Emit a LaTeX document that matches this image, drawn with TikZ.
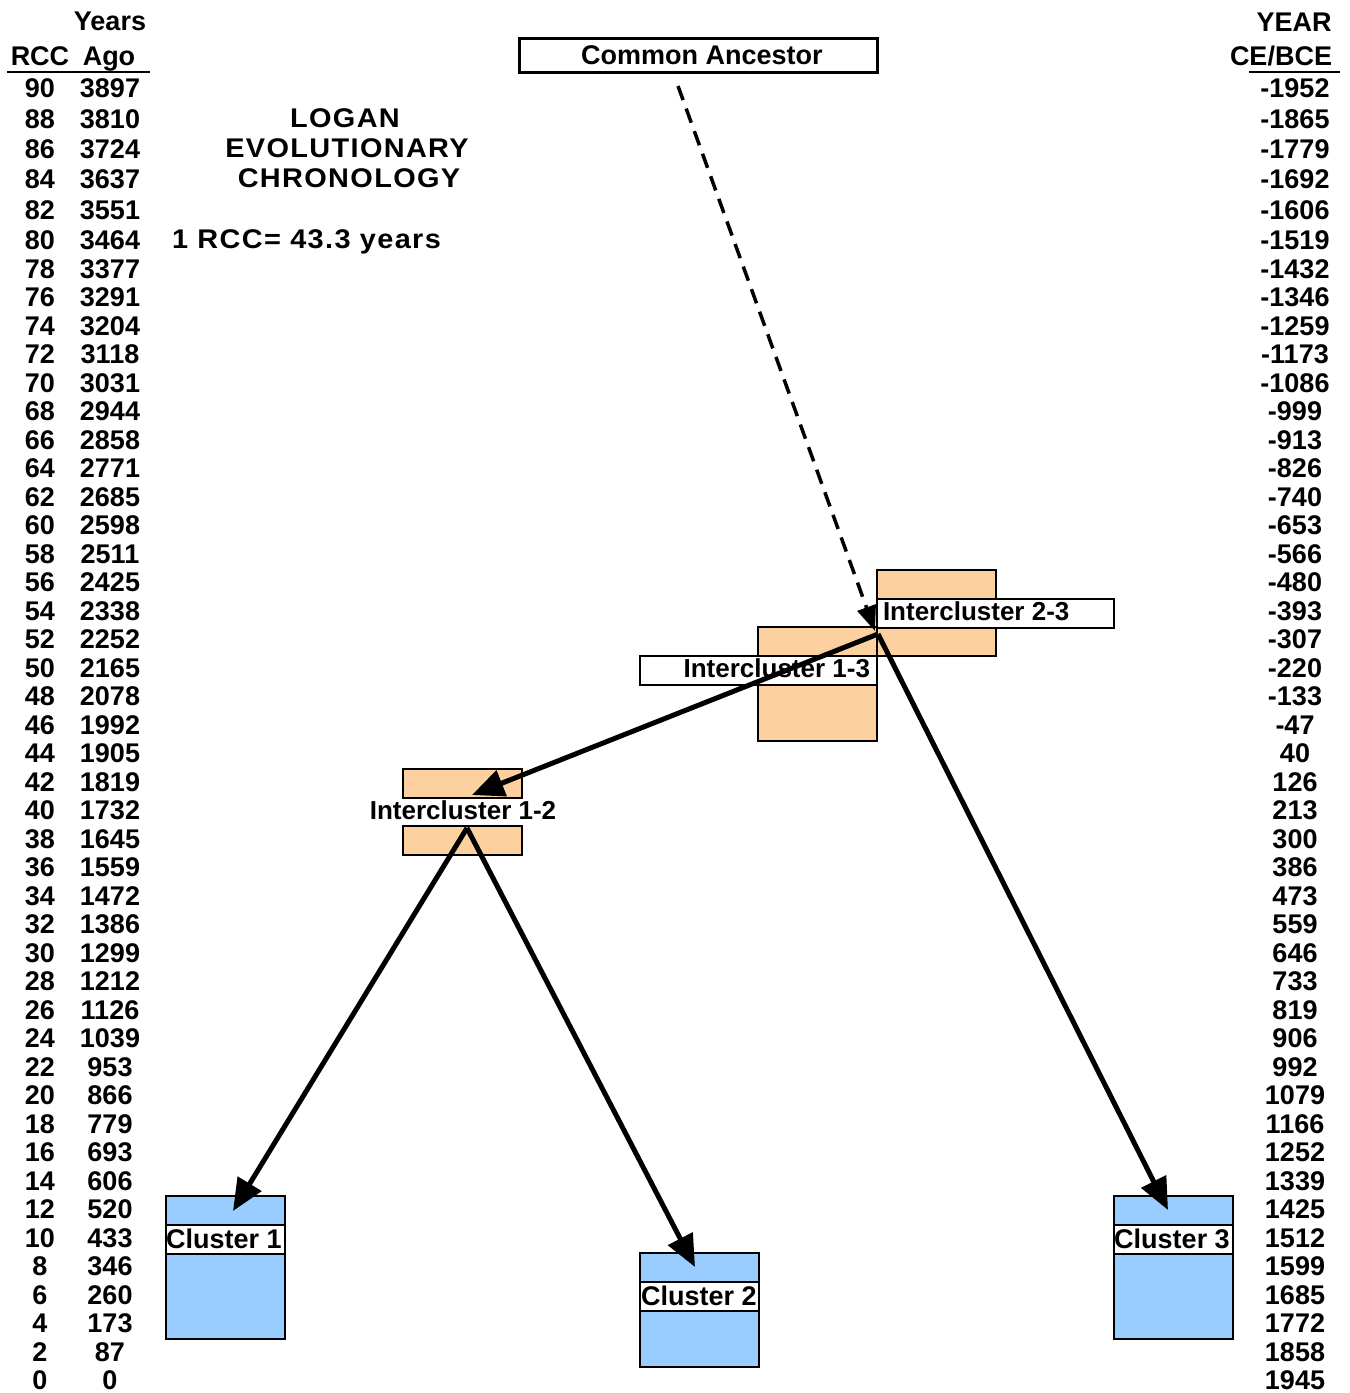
\documentclass[tikz,border=0pt]{standalone}
\usepackage{fontspec}
\setmainfont{Liberation Sans}
\usetikzlibrary{arrows.meta}
\definecolor{myorange}{HTML}{FCD09F}
\definecolor{myblue}{HTML}{99CCFF}
\begin{document}
\begin{tikzpicture}[x=1pt,y=-1pt,
  every node/.style={inner sep=0pt, outer sep=0pt},
  txt/.style={font=\fontsize{27}{30}\selectfont\bfseries, anchor=base},
  ttxt/.style={font=\fontsize{27}{30}\selectfont\bfseries\addfontfeature{FakeStretch=1.07,LetterSpace=5}, anchor=base},
  itxt/.style={font=\fontsize{26}{30}\selectfont\bfseries, anchor=base},
  obox/.style={draw=black, line width=1.5pt, fill=myorange, anchor=north west},
  bbox/.style={draw=black, line width=1.5pt, fill=myblue, anchor=north west},
  wbox/.style={draw=black, line width=1.5pt, fill=white, anchor=north west},
  bigarrow/.style={line width=5pt, -{Triangle[length=32pt,width=27pt]}},
  dasharrow/.style={line width=3.5pt, dash pattern=on 15pt off 9pt, -{Triangle[length=25pt,width=19pt]}}]
\useasboundingbox (0,0) rectangle (1350,1393);

% headers
\node[txt] (hyears) at (110,30) {Years};
\node[txt] (hrcc) at (40,65) {RCC};
\node[txt] (hago) at (109,65) {Ago};
\draw[line width=2pt] (7,72) -- (150,72);
\node[txt] (hyear) at (1294,31) {YEAR};
\node[txt] (hce) at (1281,65) {CE/BCE};
\draw[line width=2pt] (1249,72) -- (1340,72);

% table
\foreach \r/\a/\c [count=\i from 0] in {90/3897/-1952, 88/3810/-1865, 86/3724/-1779, 84/3637/-1692, 82/3551/-1606, 80/3464/-1519, 78/3377/-1432, 76/3291/-1346, 74/3204/-1259, 72/3118/-1173, 70/3031/-1086, 68/2944/-999, 66/2858/-913, 64/2771/-826, 62/2685/-740, 60/2598/-653, 58/2511/-566, 56/2425/-480, 54/2338/-393, 52/2252/-307, 50/2165/-220, 48/2078/-133, 46/1992/-47, 44/1905/40, 42/1819/126, 40/1732/213, 38/1645/300, 36/1559/386, 34/1472/473, 32/1386/559, 30/1299/646, 28/1212/733, 26/1126/819, 24/1039/906, 22/953/992, 20/866/1079, 18/779/1166, 16/693/1252, 14/606/1339, 12/520/1425, 10/433/1512, 8/346/1599, 6/260/1685, 4/173/1772, 2/87/1858, 0/0/1945}{
  \pgfmathsetmacro{\yy}{\i<6 ? 88+\i*30.4+9.7 : 240+(\i-5)*28.5+9.7}
  \node[txt] (r\i) at (40,\yy) {\r};
  \node[txt] (a\i) at (110,\yy) {\a};
  \node[txt] (c\i) at (1295,\yy) {\c};
}

% title
\node[ttxt] (t1) at (345,127) {LOGAN};
\node[ttxt] (t2) at (347,157) {EVOLUTIONARY};
\node[ttxt] (t3) at (349,187) {CHRONOLOGY};
\node[ttxt, anchor=base west] (t4) at (172,248) {1 RCC= 43.3 years};

% common ancestor
\node[wbox, line width=3pt, minimum width=358pt, minimum height=34pt] (ca) at (519,38) {};
\node[txt] (catext) at (702,64) {Common Ancestor};

% intercluster boxes
\node[obox, minimum width=119pt, minimum height=86pt] (o23) at (877,570) {};
\node[obox, minimum width=119pt, minimum height=114pt] (o13) at (758,627) {};
\node[wbox, minimum width=237pt, minimum height=29pt] (w23) at (877,599) {};
\node[wbox, minimum width=237pt, minimum height=29pt] (w13) at (640,656) {};
\node[itxt, anchor=base west] (l23) at (883,620) {Intercluster 2-3};
\node[itxt, anchor=base east] (l13) at (870,677) {Intercluster 1-3};

\node[obox, minimum width=119pt, minimum height=29pt] (o12a) at (403,769) {};
\node[obox, minimum width=119pt, minimum height=29pt] (o12b) at (403,826) {};
\node[itxt] (l12) at (463,819) {Intercluster 1-2};

% clusters
\node[bbox, minimum width=119pt, minimum height=143pt] (k1) at (166,1196) {};
\node[wbox, minimum width=119pt, minimum height=29pt] (k1w) at (166,1225) {};
\node[txt] (k1t) at (224,1248) {Cluster 1};

\node[bbox, minimum width=119pt, minimum height=114pt] (k2) at (640,1253) {};
\node[wbox, minimum width=119pt, minimum height=29pt] (k2w) at (640,1282) {};
\node[txt] (k2t) at (699,1305) {Cluster 2};

\node[bbox, minimum width=119pt, minimum height=143pt] (k3) at (1114,1196) {};
\node[wbox, minimum width=119pt, minimum height=29pt] (k3w) at (1114,1225) {};
\node[txt] (k3t) at (1172,1248) {Cluster 3};

% connectors
\coordinate (castart) at (678,86);
\coordinate (p23) at (875,631);
\coordinate (p23b) at (878,634);
\coordinate (p12in) at (472,795);
\coordinate (p12) at (467,828);
\coordinate (c1in) at (233,1211);
\coordinate (c2in) at (695,1267);
\coordinate (c3in) at (1168,1210);

\draw[dasharrow] (castart) -- (p23);
\draw[bigarrow] (p23b) -- (p12in);
\draw[bigarrow] (p23b) -- (c3in);
\draw[bigarrow] (p12) -- (c1in);
\draw[bigarrow] (p12) -- (c2in);
\end{tikzpicture}
\end{document}
